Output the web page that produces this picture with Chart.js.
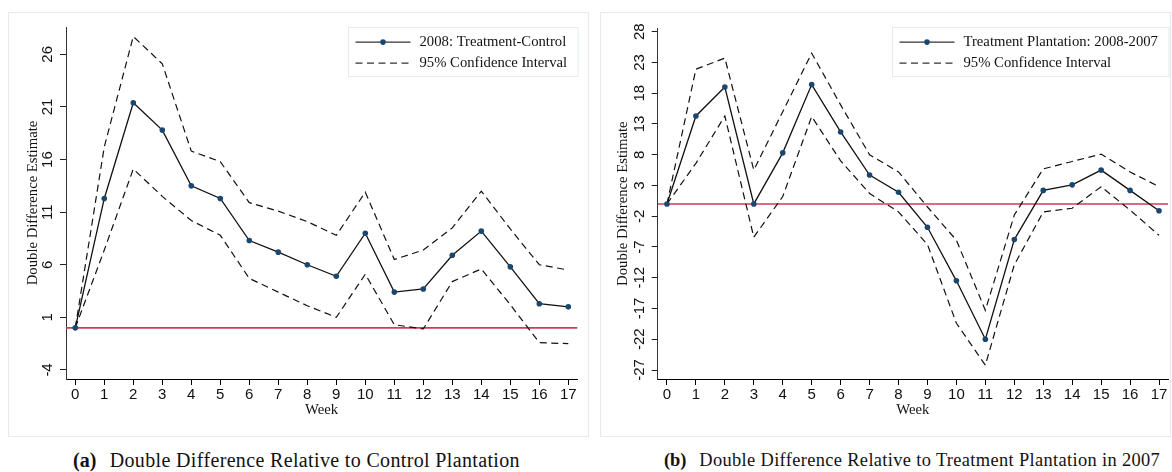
<!DOCTYPE html>
<html>
<head>
<meta charset="utf-8">
<script src="https://cdn.jsdelivr.net/npm/chart.js@4.4.1/dist/chart.umd.min.js"></script>
<style>
  html, body { margin: 0; padding: 0; background: #fff; }
  body { width: 1172px; height: 472px; position: relative; overflow: hidden; }
  .frame { position: absolute; top: 12px; height: 425px; border: 1px solid #e3ebed; box-sizing: border-box; }
  canvas { position: absolute; top: 12px; }
  .caption { position: absolute; top: 448px; line-height: 24px; font-family: 'Liberation Serif', 'Times New Roman', serif;
             color: #111; white-space: nowrap; text-align: center; letter-spacing: 0.35px; }
  .caption b { margin-right: 8px; letter-spacing: 0; }
</style>
</head>
<body>
<div class="frame" style="left:8px;width:581px"></div>
<div class="frame" style="left:600px;width:571px"></div>
<canvas id="chartA" width="580" height="425" style="left:8px"></canvas>
<canvas id="chartB" width="572" height="425" style="left:600px"></canvas>
<div class="caption" style="left:0;width:593px;font-size:20px"><b>(a)</b> Double Difference Relative to Control Plantation</div>
<div class="caption" style="left:600px;width:624px;font-size:18.4px"><b>(b)</b> Double Difference Relative to Treatment Plantation in 2007</div>

<script>
// weeks on the x axis
const weeks = [0, 1, 2, 3, 4, 5, 6, 7, 8, 9, 10, 11, 12, 13, 14, 15, 16, 17];

// panel (a): 2008 treatment minus control
const diffA  = [0, 12.3, 21.4, 18.8, 13.5, 12.3, 8.3, 7.2, 6.0, 4.9, 9.0, 3.4, 3.7, 6.9, 9.2, 5.8, 2.3, 2.0];
const upperA = [0, 17.2, 27.7, 25.1, 16.8, 15.8, 11.9, 11.1, 10.1, 8.8, 12.9, 6.5, 7.4, 9.5, 13.0, 9.4, 6.0, 5.5];
const lowerA = [0, 7.4, 15.1, 12.5, 10.2, 8.8, 4.7, 3.4, 2.1, 1.0, 5.1, 0.3, -0.1, 4.4, 5.6, 2.2, -1.4, -1.5];
const yTicksA = [-4, 1, 6, 11, 16, 21, 26];

// panel (b): treatment plantation 2008 minus 2007
const diffB  = [0, 14.3, 19.0, 0.0, 8.3, 19.4, 11.7, 4.7, 1.9, -3.8, -12.5, -22.0, -5.8, 2.2, 3.1, 5.5, 2.2, -1.1];
const upperB = [0, 21.9, 23.7, 5.5, 15.0, 24.5, 16.1, 8.0, 5.2, -0.5, -5.9, -17.3, -1.8, 5.7, 6.9, 8.1, 5.2, 2.8];
const lowerB = [0, 6.6, 14.3, -5.4, 1.2, 14.2, 7.0, 1.7, -1.3, -6.6, -19.4, -26.2, -9.9, -1.3, -0.7, 2.8, -1.0, -5.1];
const yTicksB = [-27, -22, -17, -12, -7, -2, 3, 8, 13, 18, 23, 28];

const zeroLine = 0;

const SERIF = "'Liberation Serif', 'Times New Roman', serif";
const SANS = "'Liberation Sans', Arial, sans-serif";
const LINE = '#111';
const DOT = '#1a476f';
const REF = '#cc3a5c';
const DASH = [7, 4.5];

function toPoints(values) {
  return weeks.map(function (w, i) { return { x: w, y: values[i] }; });
}

// horizontal reference line at zero, under the series
const refLinePlugin = {
  id: 'refLine',
  beforeDatasetsDraw: function (chart) {
    const ctx = chart.ctx;
    const area = chart.chartArea;
    const y = chart.scales.y.getPixelForValue(zeroLine);
    ctx.save();
    ctx.strokeStyle = REF;
    ctx.lineWidth = 1.6;
    ctx.beginPath();
    ctx.moveTo(area.left, y);
    ctx.lineTo(area.right, y);
    ctx.stroke();
    ctx.restore();
  }
};

// vertical y tick labels (read bottom to top)
const yLabelPlugin = {
  id: 'yLabels',
  afterDraw: function (chart) {
    const ctx = chart.ctx;
    const scale = chart.scales.y;
    const x = chart.chartArea.left - 17.7;
    ctx.save();
    ctx.font = '15px ' + SANS;
    ctx.fillStyle = '#111';
    ctx.textAlign = 'center';
    ctx.textBaseline = 'middle';
    scale.ticks.forEach(function (t) {
      const y = scale.getPixelForValue(t.value);
      ctx.save();
      ctx.translate(x, y);
      ctx.rotate(-Math.PI / 2);
      ctx.fillText(String(t.value), 0, 0);
      ctx.restore();
    });
    ctx.restore();
  }
};

// boxed legend in the top right corner of the plot
const boxLegendPlugin = {
  id: 'boxLegend',
  afterDraw: function (chart, args, opts) {
    const ctx = chart.ctx;
    const area = chart.chartArea;
    ctx.save();
    ctx.font = '14.7px ' + SERIF;
    const textW = Math.max.apply(null, opts.items.map(function (it) { return ctx.measureText(it.text).width; }));
    const padL = 7, lineLen = 55, gap = 9, padR = 11;
    const w = padL + lineLen + gap + textW + padR;
    const h = 49;
    const x0 = Math.round(area.right - w) + 0.5;
    const y0 = 15.5;
    ctx.fillStyle = '#fff';
    ctx.fillRect(x0, y0, w, h);
    ctx.strokeStyle = '#e3ebed';
    ctx.lineWidth = 1;
    ctx.strokeRect(x0, y0, w, h);

    opts.items.forEach(function (it, i) {
      const cy = y0 + 14.6 + i * 21;
      const lx = x0 + padL;
      ctx.strokeStyle = '#333';
      ctx.lineWidth = 1.3;
      ctx.setLineDash(it.dashed ? DASH : []);
      ctx.beginPath();
      ctx.moveTo(lx, cy);
      ctx.lineTo(lx + lineLen, cy);
      ctx.stroke();
      ctx.setLineDash([]);
      if (!it.dashed) {
        ctx.fillStyle = DOT;
        ctx.beginPath();
        ctx.arc(lx + lineLen / 2, cy, 2.8, 0, Math.PI * 2);
        ctx.fill();
      }
      ctx.fillStyle = '#111';
      ctx.textAlign = 'left';
      ctx.textBaseline = 'middle';
      ctx.fillText(it.text, lx + lineLen + gap, cy + 0.5);
    });
    ctx.restore();
  }
};

function makeChart(id, p) {
  const canvas = document.getElementById(id);
  return new Chart(canvas.getContext('2d'), {
    type: 'line',
    data: {
      datasets: [{
        label: p.mainLabel,
        data: toPoints(p.diff),
        borderColor: LINE,
        borderWidth: 1.3,
        pointRadius: 2.8,
        pointBackgroundColor: DOT,
        pointBorderWidth: 0,
        tension: 0
      }, {
        label: 'upper',
        data: toPoints(p.upper),
        borderColor: LINE,
        borderWidth: 1.2,
        borderDash: DASH,
        pointRadius: 0,
        tension: 0
      }, {
        label: 'lower',
        data: toPoints(p.lower),
        borderColor: LINE,
        borderWidth: 1.2,
        borderDash: DASH,
        pointRadius: 0,
        tension: 0
      }]
    },
    options: {
      responsive: false,
      animation: false,
      events: [],
      layout: { padding: { left: 0, right: p.padRight, top: p.padTop, bottom: 0 } },
      scales: {
        x: {
          type: 'linear',
          min: -0.32,
          max: 17.31,
          afterBuildTicks: function (scale) {
            scale.ticks = weeks.map(function (w) { return { value: w }; });
          },
          afterFit: function (scale) { scale.height = 58; },
          grid: { drawOnChartArea: false, drawTicks: true, tickLength: 6, color: '#000' },
          border: { display: true, color: '#000', width: 1 },
          ticks: { color: '#111', padding: 1, maxRotation: 0, autoSkip: false, font: { family: SANS, size: 15 } },
          title: { display: true, text: 'Week', color: '#111', padding: { top: 0, bottom: 18.2 }, font: { family: SERIF, size: 14.7 } }
        },
        y: {
          type: 'linear',
          min: p.yMin,
          max: p.yMax,
          afterBuildTicks: function (scale) {
            scale.ticks = p.yTicks.map(function (v) { return { value: v }; });
          },
          afterFit: function (scale) { scale.width = p.yWidth; },
          grid: { drawOnChartArea: false, drawTicks: true, tickLength: 6, color: '#222' },
          border: { display: true, color: '#333', width: 1 },
          ticks: { display: false },
          title: { display: true, text: 'Double Difference Estimate', color: '#111', padding: { top: p.titlePad, bottom: 0 }, font: { family: SERIF, size: 14.7 } }
        }
      },
      plugins: {
        legend: { display: false },
        tooltip: { enabled: false },
        boxLegend: {
          items: [
            { text: p.mainLabel, dashed: false },
            { text: '95% Confidence Interval', dashed: true }
          ]
        }
      }
    },
    plugins: [refLinePlugin, yLabelPlugin, boxLegendPlugin]
  });
}

makeChart('chartA', {
  mainLabel: '2008: Treatment-Control',
  diff: diffA, upper: upperA, lower: lowerA, yTicks: yTicksA,
  yMin: -4.86, yMax: 28.6,
  yWidth: 58, padTop: 15, padRight: 10.7, titlePad: 16.5
});

makeChart('chartB', {
  mainLabel: 'Treatment Plantation: 2008-2007',
  diff: diffB, upper: upperB, lower: lowerB, yTicks: yTicksB,
  yMin: -28.46, yMax: 28.55,
  yWidth: 57.7, padTop: 16.3, padRight: 2.7, titlePad: 14.5
});
</script>
</body>
</html>
